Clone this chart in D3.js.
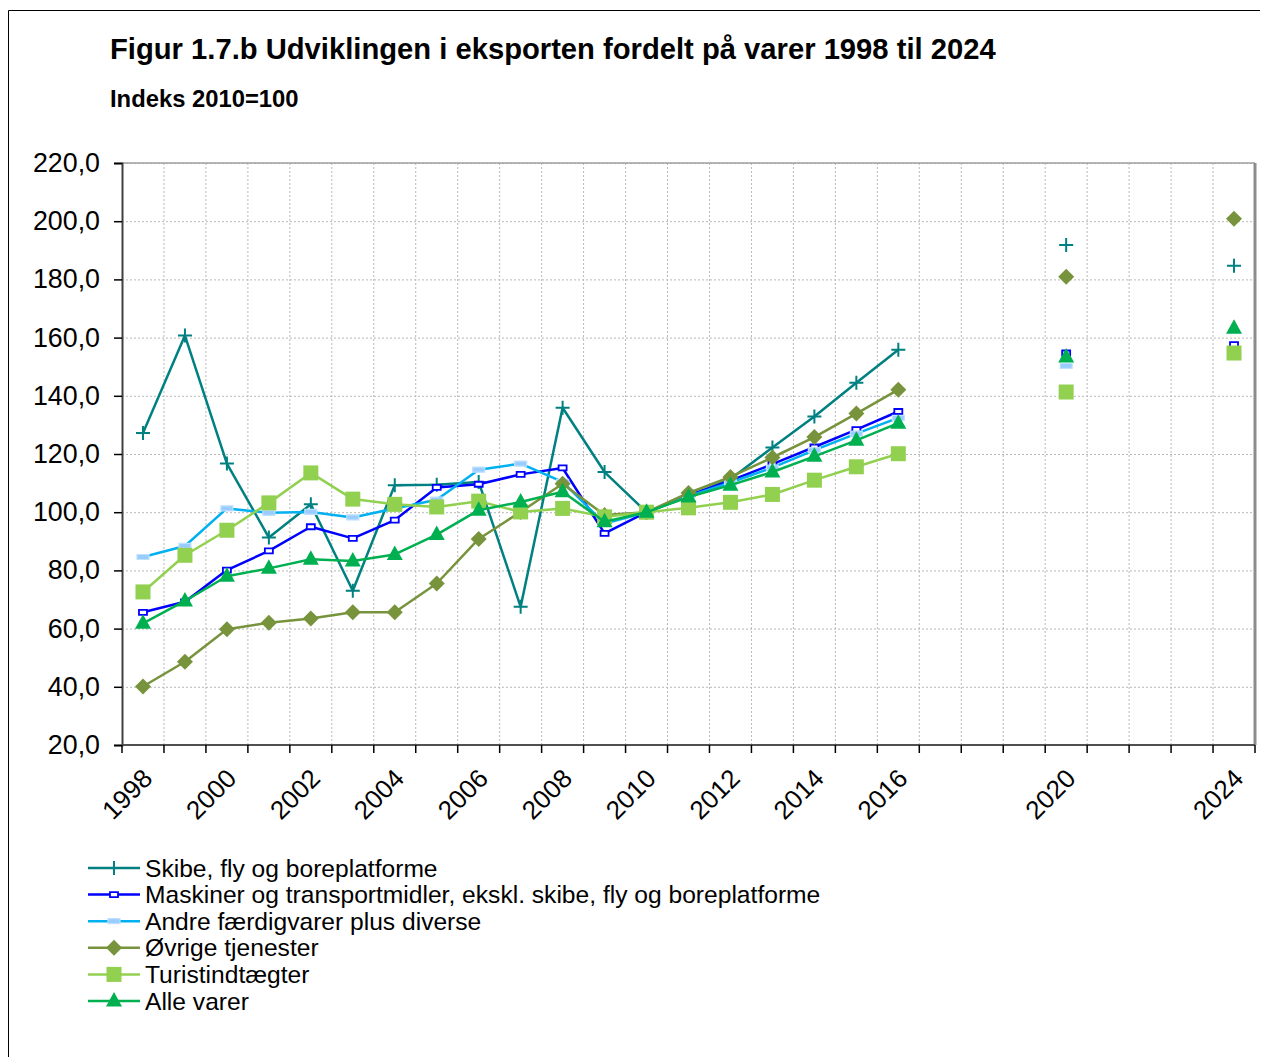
<!DOCTYPE html>
<html>
<head>
<meta charset="utf-8">
<script src="https://cdn.jsdelivr.net/npm/d3@7"></script>
<style>
  body { margin: 0; background: #fff; }
  svg { display: block; font-family: "Liberation Sans", Arial, sans-serif; }
  .grid line { stroke: #b8b8b8; stroke-width: 1; stroke-dasharray: 2,2; }
  .grid .domain { display: none; }
</style>
</head>
<body>
<div class="chart"></div>
<script>
// categories (every year, gaps where there is no value)
const years = [1998,1999,2000,2001,2002,2003,2004,2005,2006,2007,2008,2009,2010,2011,2012,2013,2014,2015,2016,2017,2018,2019,2020,2021,2022,2023,2024];
const tickLabels = ["1998","2000","2002","2004","2006","2008","2010","2012","2014","2016","2020","2024"];
const yTicks = [20,40,60,80,100,120,140,160,180,200,220];

const skibe    = [127.2,160.7,116.7,91.3,102.7,73.0,109.3,109.4,110.4,67.5,135.9,113.8,100,105.5,111.4,122.2,132.9,144.5,155.8,null,null,null,191.8,null,null,null,184.7];
const maskiner = [65.6,69.2,80.1,86.7,95.0,91.0,97.3,108.5,109.6,113.0,115.2,92.7,100,105.8,110.8,116.5,122.4,128.4,134.6,null,null,null,154.7,null,null,null,157.6];
const andre    = [84.6,88.4,101.3,99.8,100.1,98.2,101.3,104.3,114.6,116.7,110.4,96.1,100,105.5,110.2,115.3,121.3,127.0,132.4,null,null,null,150.3,null,null,null,155.5];
const ovrige   = [40.1,48.6,59.8,62.0,63.5,65.6,65.6,75.5,90.8,100.1,109.8,99.0,100,106.6,112.1,118.8,125.8,133.9,142.1,null,null,null,180.9,null,null,null,200.8];
const turist   = [72.6,85.2,93.8,103.2,113.5,104.5,102.7,101.8,103.8,100.1,101.3,98.4,100,101.5,103.4,106.1,111.0,115.6,120.1,null,null,null,141.3,null,null,null,154.7];
const alle     = [61.8,69.5,78.0,80.7,83.8,83.2,85.5,92.3,100.7,103.5,107.0,96.7,100,105.2,109.3,113.8,119.2,124.7,130.6,null,null,null,153.3,null,null,null,163.2];

const seriesNames = [
  "Skibe, fly og boreplatforme",
  "Maskiner og transportmidler, ekskl. skibe, fly og boreplatforme",
  "Andre færdigvarer plus diverse",
  "Øvrige tjenester",
  "Turistindtægter",
  "Alle varer"
];
const seriesValues = [skibe, maskiner, andre, ovrige, turist, alle];
const colors = ["#008080", "#0000ff", "#00b0f0", "#77933c", "#92d050", "#00b050"];
const markers = ["plus", "dash", "bar", "diamond", "square", "triangle"];

const W = 1264, H = 1057;
const plot = {left: 122, right: 1255, top: 163, bottom: 745};

const svg = d3.select(".chart").append("svg")
    .attr("width", W)
    .attr("height", H);

// outer frame
svg.append("path")
    .attr("d", `M8.5,${H + 5} V10.5 H1260`)
    .attr("fill", "none")
    .attr("stroke", "#000")
    .attr("stroke-width", 1);

// titles
svg.append("text")
    .attr("x", 110).attr("y", 59)
    .attr("font-size", 29.2).attr("font-weight", "bold")
    .text("Figur 1.7.b Udviklingen i eksporten fordelt på varer 1998 til 2024");
svg.append("text")
    .attr("x", 110).attr("y", 107)
    .attr("font-size", 23.8).attr("font-weight", "bold")
    .text("Indeks 2010=100");

// scales
const x = d3.scaleBand()
    .domain(years)
    .range([plot.left, plot.right])
    .padding(0);
const bw = x.bandwidth();
const cx = yr => x(yr) + bw / 2;

const y = d3.scaleLinear()
    .domain([20, 220])
    .range([plot.bottom, plot.top]);

const locale = d3.formatLocale({decimal: ",", thousands: ".", grouping: [3], currency: ["", " kr."]});
const fmt = locale.format(".1f");

// grid lines
svg.append("g")
    .attr("class", "grid")
    .attr("transform", `translate(${plot.left},0)`)
    .call(d3.axisLeft(y).tickValues(yTicks.slice(1)).tickSize(-(plot.right - plot.left)).tickFormat(""));

const boundaries = years.slice(1).map(yr => x(yr));
svg.append("g")
    .attr("class", "grid")
    .selectAll("line")
    .data(boundaries)
    .enter().append("line")
    .attr("x1", d => d).attr("x2", d => d)
    .attr("y1", plot.top).attr("y2", plot.bottom);

// plot border (top + right)
svg.append("line")
    .attr("x1", plot.left).attr("x2", plot.right)
    .attr("y1", plot.top).attr("y2", plot.top)
    .attr("stroke", "#a0a0a0").attr("stroke-width", 1.5);
svg.append("line")
    .attr("x1", plot.right).attr("x2", plot.right)
    .attr("y1", plot.top).attr("y2", plot.bottom)
    .attr("stroke", "#8c8c8c").attr("stroke-width", 3);

// y axis
const yAxis = svg.append("g")
    .attr("transform", `translate(${plot.left},0)`)
    .call(d3.axisLeft(y).tickValues(yTicks).tickSize(8).tickPadding(14).tickFormat(fmt));
yAxis.select(".domain").attr("stroke", "#404040").attr("stroke-width", 2);
yAxis.selectAll(".tick line").attr("stroke", "#000").attr("stroke-width", 1.5);
yAxis.selectAll(".tick text")
    .attr("font-size", 26.8)
    .attr("font-family", "Liberation Sans, Arial, sans-serif")
    .attr("fill", "#000");

// x axis
const xAxisG = svg.append("g");
xAxisG.append("line")
    .attr("x1", plot.left).attr("x2", plot.right)
    .attr("y1", plot.bottom).attr("y2", plot.bottom)
    .attr("stroke", "#505050").attr("stroke-width", 2);
xAxisG.selectAll(".xtick")
    .data(years.map(yr => x(yr)).concat([plot.right]))
    .enter().append("line")
    .attr("x1", d => d).attr("x2", d => d)
    .attr("y1", plot.bottom).attr("y2", plot.bottom + 8)
    .attr("stroke", "#000").attr("stroke-width", 1.5);
xAxisG.selectAll(".xlabel")
    .data(tickLabels)
    .enter().append("text")
    .attr("text-anchor", "end")
    .attr("font-size", 26)
    .attr("transform", d => `translate(${cx(+d) + 11},${plot.bottom + 35}) rotate(-45)`)
    .text(d => d);

// marker shapes
function markerPath(type) {
  switch (type) {
    case "diamond":  return "M0,-8 L8,0 L0,8 L-8,0 Z";
    case "square":   return "M-7.5,-7.5 H7.5 V7.5 H-7.5 Z";
    case "triangle": return "M0,-9 L8,5.5 L-8,5.5 Z";
    case "plus":     return "M-7,0 H7 M0,-7 V7";
    case "dash":     return "M-4,-2.5 H4 V2.5 H-4 Z";
    case "bar":      return "M-6,-2.5 H6 V2.5 H-6 Z";
  }
}
function drawMarker(g, type, color) {
  const p = g.append("path").attr("d", markerPath(type));
  if (type === "plus") {
    p.attr("fill", "none").attr("stroke", color).attr("stroke-width", 2);
  } else if (type === "dash") {
    p.attr("fill", "#fff").attr("stroke", color).attr("stroke-width", 1.8);
  } else if (type === "bar") {
    p.attr("fill", "#99ccff").attr("stroke", "#bfe0ff").attr("stroke-width", 1.2);
  } else {
    p.attr("fill", color);
  }
}

// lines + markers
const line = d3.line()
    .defined(d => d.v != null)
    .x(d => cx(d.yr))
    .y(d => y(d.v));

seriesValues.forEach((vals, i) => {
  const data = years.map((yr, j) => ({yr: yr, v: vals[j]}));
  svg.append("path")
      .datum(data)
      .attr("fill", "none")
      .attr("stroke", colors[i])
      .attr("stroke-width", 2.5)
      .attr("stroke-linejoin", "round")
      .attr("d", line);
  svg.append("g").selectAll("g")
      .data(data.filter(d => d.v != null))
      .enter().append("g")
      .attr("transform", d => `translate(${cx(d.yr)},${y(d.v)})`)
      .each(function() { drawMarker(d3.select(this), markers[i], colors[i]); });
});

// legend
const legend = svg.append("g");
seriesNames.forEach((name, i) => {
  const ly = 868 + i * 26.6;
  const row = legend.append("g");
  row.append("line")
      .attr("x1", 88).attr("x2", 140)
      .attr("y1", ly).attr("y2", ly)
      .attr("stroke", colors[i]).attr("stroke-width", 2.5);
  drawMarker(row.append("g").attr("transform", `translate(114,${ly})`), markers[i], colors[i]);
  row.append("text")
      .attr("x", 145).attr("y", ly)
      .attr("dy", "0.35em")
      .attr("font-size", 24.6)
      .text(name);
});
</script>
</body>
</html>
